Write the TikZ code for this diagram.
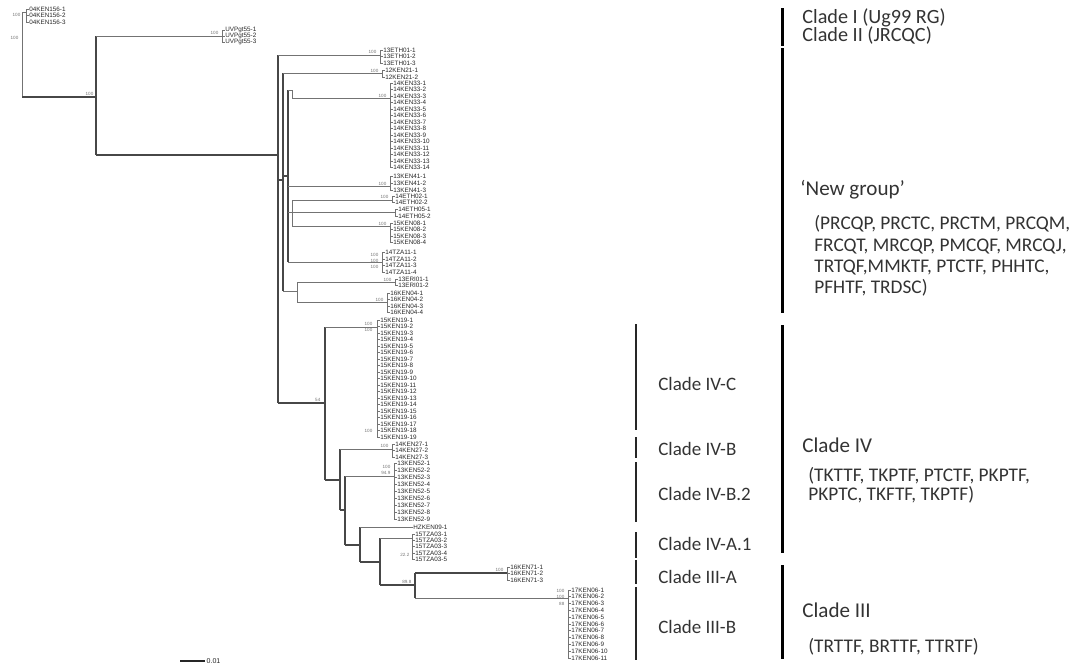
\documentclass[tikz,border=0pt]{standalone}
\usepackage{fontspec}
\setmainfont{Carlito}
\newfontfamily\leaffont{Liberation Sans}
\newcommand\tipset[5]{%
  \draw[tree] (#1,#2) -- (#1,{#2+(#4-1)*#3});
  \foreach \k in {1,...,#4}{%
    \draw[tree] (#1,{#2+(\k-1)*#3}) -- ++(2.5,0) node[leaf] (#5\k) {#5\k};
  }%
}
\begin{document}
\begin{tikzpicture}[x=0.02cm,y=-0.02cm,
  tree/.style={draw=black!55, line width=0.4pt},
  trunk/.style={draw=black!72, line width=0.6pt},
  leaf/.style={font=\leaffont\fontsize{3.6}{3.8}\selectfont, text=black!85, inner sep=0.3pt, anchor=west},
  bs/.style={font=\leaffont\fontsize{2.6}{2.8}\selectfont, text=black!55, inner sep=0.2pt, anchor=east},
  clade/.style={font=\fontsize{12}{14}\selectfont, text=black!80, anchor=base west, inner sep=0},
  subclade/.style={font=\fontsize{10.8}{13}\selectfont, text=black!80, anchor=base west, inner sep=0},
  races/.style={font=\fontsize{11}{13}\selectfont, text=black!80, anchor=base west, inner sep=0},
  bar/.style={line width=1.7pt, black},
  subbar/.style={line width=1.1pt, black!85}]
\useasboundingbox (0,0) rectangle (1091,670);

% ---------- outgroup and early clades
\coordinate (r0) at (22,97);
\draw[tree] (22,12) -- (r0);
\draw[tree] (22,12) -- (26,12);
\tipset{26}{9}{6.5}{3}{04KEN156-}
\node[bs] (b0) at (21,15) {100};
\node[bs] (b1) at (19,38) {100};
\coordinate (n1) at (96,97);
\draw[trunk] (r0) -- (n1);
\node[bs] (b2) at (94,94) {100};
\draw[trunk] (96,36) -- (96,155);
\draw[tree] (96,36) -- (222,36);
\tipset{222}{30}{6}{3}{UVPgt55-}
\node[bs] (b3) at (219,33) {100};
\coordinate (n2) at (278,155);
\draw[trunk] (96,155) -- (n2);

% ---------- main trunk
\draw[trunk] (278,55) -- (278,403);
\draw[tree] (278,55) -- (380,55);
\tipset{380}{50}{6.5}{3}{13ETH01-}
\node[bs] (b4) at (377,52) {100};
% N3
\draw[trunk] (278,180) -- (283,180);
\draw[trunk] (283,73) -- (283,291);
\draw[tree] (283,73) -- (382,73);
\tipset{382}{70}{7}{2}{12KEN21-}
\node[bs] (b5) at (379,71) {100};
% N4
\draw[trunk] (283,176) -- (288,176);
\draw[trunk] (288,90) -- (288,262);
\draw[tree] (288,90) -- (292,90) -- (292,98) -- (390,98);
\tipset{390}{83}{6.5}{14}{14KEN33-}
\node[bs] (b6) at (387,96) {100};
\draw[tree] (288,186) -- (390,186);
\tipset{390}{176}{7}{3}{13KEN41-}
\node[bs] (b7) at (387,184) {100};
% N5
\draw[tree] (288,212) -- (292,212);
\draw[tree] (292,200) -- (292,226);
\draw[tree] (292,200) -- (392,200);
\tipset{392}{196}{6.5}{2}{14ETH02-}
\node[bs] (b8) at (389,197) {100};
\draw[tree] (292,212) -- (395,212);
\tipset{395}{209.5}{6.5}{2}{14ETH05-}
\draw[tree] (292,226) -- (390,226);
\tipset{390}{223}{6.5}{4}{15KEN08-}
\node[bs] (b9) at (387,224) {100};
\draw[tree] (288,262) -- (382,262);
\tipset{382}{252.5}{6.5}{4}{14TZA11-}
\node[bs] (b10) at (379,255) {100};
\node[bs] (b11) at (379,261) {100};
\node[bs] (b12) at (379,267) {100};
% N6
\draw[tree] (283,291) -- (297,291);
\draw[tree] (297,282) -- (297,302);
\draw[tree] (297,282) -- (395,282);
\tipset{395}{279}{6.5}{2}{13ERI01-}
\node[bs] (b13) at (392,280) {100};
\draw[tree] (297,302) -- (387,302);
\tipset{387}{293}{6.5}{4}{16KEN04-}
\node[bs] (b14) at (384,300) {100};

% ---------- Clade IV and III
\coordinate (n7) at (325,403);
\draw[trunk] (278,403) -- (n7);
\node[bs] (b15) at (321,400) {54};
\draw[trunk] (325,327) -- (325,480);
\draw[tree] (325,327) -- (377,327);
\tipset{377}{320}{6.5}{19}{15KEN19-}
\node[bs] (b16) at (373,324) {100};
\node[bs] (b17) at (373,330) {100};
\node[bs] (b18) at (373,431) {100};
\draw[trunk] (325,480) -- (340,480);
\draw[trunk] (340,449) -- (340,510);
\draw[tree] (340,449) -- (392,449);
\tipset{392}{444}{6.5}{3}{14KEN27-}
\node[bs] (b19) at (389,446) {100};
\draw[trunk] (340,510) -- (345,510);
\draw[trunk] (345,476) -- (345,545);
\draw[tree] (345,476) -- (394,476);
\tipset{394}{463.5}{7}{9}{13KEN52-}
\node[bs] (b20) at (391,473) {94.9};
\node[bs] (b21) at (391,467) {100};
\draw[trunk] (345,545) -- (360,545);
\draw[trunk] (360,527) -- (360,562);
\draw[tree] (360,527) -- (410,527);
\tipset{410}{527}{0}{1}{HZKEN09-}
\draw[trunk] (360,562) -- (380,562);
\draw[trunk] (380,538) -- (380,585);
\draw[tree] (380,538) -- (412,538);
\tipset{412}{534}{6.3}{5}{15TZA03-}
\node[bs] (b22) at (410,555) {22.2};
\draw[trunk] (380,585) -- (415,585);
\node[bs] (b23) at (412,582) {89.8};
\draw[trunk] (415,573) -- (415,598);
\draw[trunk] (415,573) -- (507,573);
\tipset{507}{567}{6.5}{3}{16KEN71-}
\node[bs] (b24) at (504,570) {100};
\draw[tree] (415,598) -- (568,598);
\tipset{568}{590}{6.8}{11}{17KEN06-}
\node[bs] (b25) at (565,591) {100};
\node[bs] (b26) at (565,597) {100};
\node[bs] (b27) at (565,604) {88};

% ---------- scale bar
\coordinate (s0) at (180,661);
\coordinate (s1) at (205,661);
\draw[line width=1.3pt, black!85] (s0) -- (s1) node[leaf, anchor=west, font=\leaffont\fontsize{4}{4.5}\selectfont] (sc) {0.01};

% ---------- clade bars
\draw[bar] (782,8) -- (782,46);
\draw[bar] (782,48) -- (782,313);
\draw[bar] (782,325) -- (782,553);
\draw[bar] (782,565) -- (782,659);
\draw[subbar] (636,324) -- (636,430);
\draw[subbar] (636,437) -- (636,458);
\draw[subbar] (636,462) -- (636,522);
\draw[subbar] (636,532) -- (636,558);
\draw[subbar] (636,560) -- (636,584);
\draw[subbar] (636,587) -- (636,660);

% ---------- clade labels
\node[clade, font=\fontsize{11.5}{13}\selectfont] (c1) at (802,23) {Clade I (Ug99 RG)};
\node[clade, font=\fontsize{11.5}{13}\selectfont] (c2) at (802,41.5) {Clade II (JRCQC)};
\node[clade] (ng) at (800,195) {`New group'};
\node[races] (r1) at (814,229) {(PRCQP, PRCTC, PRCTM, PRCQM,};
\node[races] (r2) at (814,251) {FRCQT, MRCQP, PMCQF, MRCQJ,};
\node[races] (r3) at (814,272) {TRTQF,MMKTF, PTCTF, PHHTC,};
\node[races] (r4) at (814,293) {PFHTF, TRDSC)};
\node[subclade] (s1l) at (658,390) {Clade IV-C};
\node[subclade] (s2l) at (658,455) {Clade IV-B};
\node[subclade] (s3l) at (658,500) {Clade IV-B.2};
\node[subclade] (s4l) at (658,550) {Clade IV-A.1};
\node[subclade] (s5l) at (658,583) {Clade III-A};
\node[subclade] (s6l) at (658,633) {Clade III-B};
\node[clade] (c4) at (802,452) {Clade IV};
\node[races] (r5) at (808,481) {(TKTTF, TKPTF, PTCTF, PKPTF,};
\node[races] (r6) at (808,500) {PKPTC, TKFTF, TKPTF)};
\node[clade] (c3) at (802,617) {Clade III};
\node[races] (r7) at (808,652) {(TRTTF, BRTTF, TTRTF)};
\end{tikzpicture}
\end{document}
